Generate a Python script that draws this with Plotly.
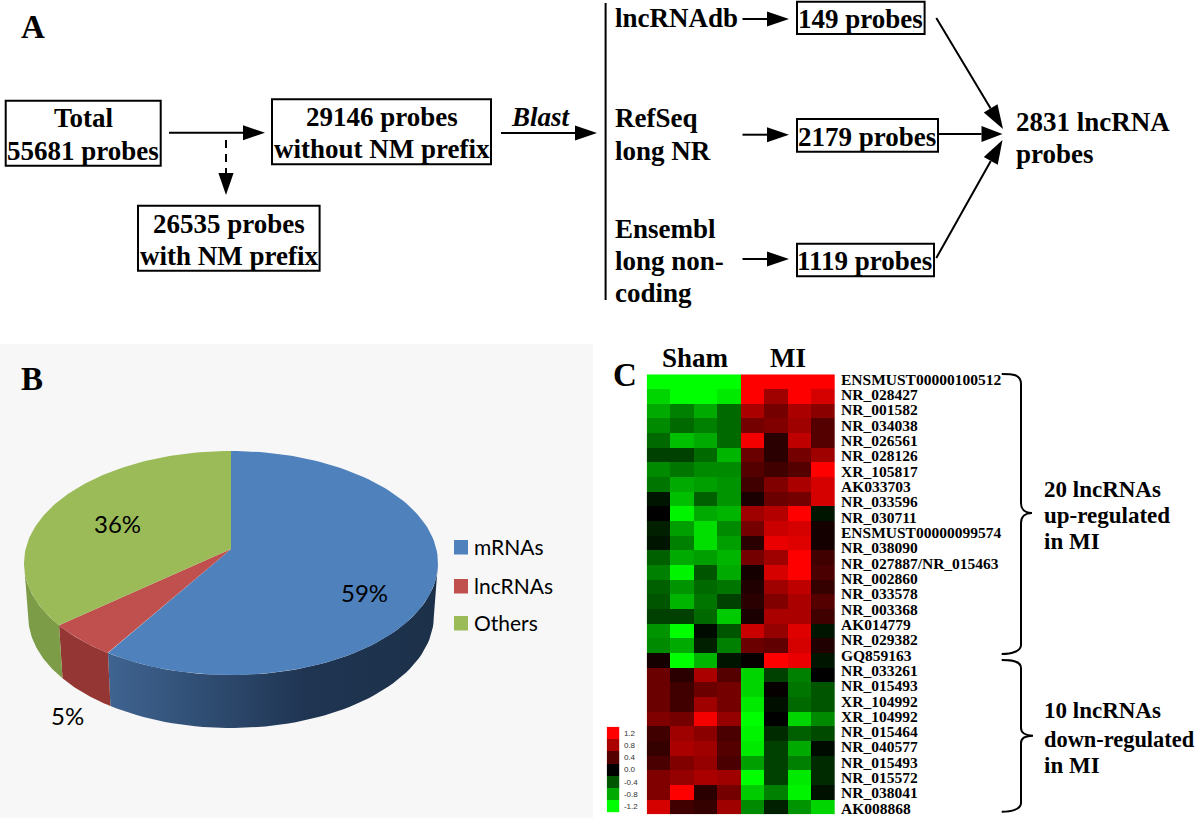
"""Three-panel probe figure: flow chart (A), 3D-style pie (B), heatmap with key (C)."""

import math

import numpy as np
import plotly.graph_objects as go

# Panel B data
PIE_LABELS = ["mRNAs", "lncRNAs", "Others"]
PIE_VALUES = [59, 5, 36]
PIE_COLORS = ["#4f81bd", "#c0504d", "#9bbb59"]
PIE_SIDE_COLORS = [None, "#943634", "#7d9c47"]

# Panel C data: one row per probe, columns are four Sham then four MI samples
HEAT_COLUMNS = ["S1", "S2", "S3", "S4", "M1", "M2", "M3", "M4"]
HEAT_ROWS = [
    [-1.2, -1.2, -1.2, -1.2, 1.2, 1.2, 1.2, 1.2],
    [-1.0, -1.2, -1.2, -1.1, 1.2, 0.75, 1.2, 1.0],
    [-0.8, -0.6, -0.8, -0.5, 0.8, 0.55, 0.8, 0.65],
    [-0.65, -0.5, -0.6, -0.5, 0.55, 0.6, 0.75, 0.4],
    [-0.5, -0.9, -0.8, -0.5, 1.15, 0.2, 0.9, 0.4],
    [-0.3, -0.3, -0.5, -0.85, 0.5, 0.2, 0.55, 0.75],
    [-0.65, -0.55, -0.65, -0.65, 0.4, 0.3, 0.4, 1.2],
    [-0.55, -0.8, -0.75, -0.7, 0.3, 0.6, 0.8, 1.0],
    [-0.1, -0.9, -0.45, -0.7, 0.12, 0.5, 0.55, 1.0],
    [0.0, -1.15, -0.8, -0.85, 0.75, 0.85, 1.2, -0.1],
    [-0.15, -0.75, -1.05, -0.65, 0.55, 0.95, 1.0, 0.1],
    [-0.1, -0.6, -1.05, -0.75, 0.2, 1.1, 1.05, 0.1],
    [-0.45, -0.8, -0.75, -0.85, 0.55, 0.75, 1.2, 0.3],
    [-0.6, -1.15, -0.4, -0.8, 0.1, 1.0, 1.2, 0.35],
    [-0.45, -0.7, -0.5, -0.55, 0.15, 0.75, 0.9, 0.25],
    [-0.4, -0.85, -0.55, -0.3, 0.2, 0.6, 0.8, 0.4],
    [-0.3, -0.3, -0.5, -0.95, 0.12, 0.8, 0.8, 0.3],
    [-0.7, -1.2, -0.05, -0.4, 0.95, 0.7, 1.05, -0.1],
    [-0.65, -0.8, -0.15, -0.6, 0.5, 0.45, 1.0, 0.15],
    [0.1, -1.2, -0.85, -0.1, 0.03, 1.2, 1.1, -0.1],
    [0.5, 0.2, 0.8, 0.4, -1.0, -0.3, -0.6, 0.0],
    [0.5, 0.3, 0.5, 0.55, -1.0, 0.03, -0.55, -0.4],
    [0.5, 0.3, 0.75, 0.55, -1.1, -0.07, -0.5, -0.4],
    [0.6, 0.55, 1.15, 0.7, -1.2, 0.0, -1.0, -0.65],
    [0.3, 0.75, 0.65, 0.35, -1.15, -0.2, -0.45, -0.35],
    [0.25, 0.8, 0.75, 0.4, -1.1, -0.3, -0.8, -0.05],
    [0.35, 0.6, 0.7, 0.35, -0.75, -0.3, -0.6, -0.2],
    [0.6, 0.7, 0.8, 0.75, -1.2, -0.3, -1.1, -0.2],
    [0.6, 1.2, 0.2, 0.55, -0.95, -0.6, -1.15, -0.08],
    [1.0, 0.3, 0.25, 0.75, -0.65, -0.15, -0.7, -1.0],
]
PROBE_LABELS = [
    "ENSMUST00000100512", "NR_028427", "NR_001582", "NR_034038", "NR_026561",
    "NR_028126", "XR_105817", "AK033703", "NR_033596", "NR_030711",
    "ENSMUST00000099574", "NR_038090", "NR_027887/NR_015463", "NR_002860",
    "NR_033578", "NR_003368", "AK014779", "NR_029382", "GQ859163", "NR_033261",
    "NR_015493", "XR_104992", "XR_104992", "NR_015464", "NR_040577", "NR_015493",
    "NR_015572", "NR_038041", "AK008868",
]
KEY_VALUES = [1.2, 0.8, 0.4, 0.0, -0.4, -0.8, -1.2]
KEY_LABELS = ["1.2", "0.8", "0.4", "0.0", "-0.4", "-0.8", "-1.2"]

WIDTH, HEIGHT = 1200, 818
SERIF = "Liberation Serif"
HEAT_SCALE = [[0, "#00ff00"], [0.5, "#000000"], [1, "#ff0000"]]

# perspective of the pie: the apex sits above the centre of the top ellipse
PIE_SKEW = 0.125
PIE_DEPTH = 53 / 112
PIE_BASE_SCALE = 0.98

shapes = []
annotations = []


def text(x, y, label, size=27, anchor="center", font=SERIF, bold=True, color="#000000", italic=False):
    body = f"<b>{label}</b>" if bold else label
    if italic:
        body = f"<i>{body}</i>"
    annotations.append(dict(
        x=x, y=y, xref="x", yref="y", text=body, showarrow=False,
        xanchor=anchor, yanchor="middle", borderpad=0,
        font=dict(family=font, size=size, color=color),
    ))


def box(x0, y0, x1, y1):
    shapes.append(dict(type="rect", x0=x0, y0=y0, x1=x1, y1=y1, xref="x", yref="y",
                       line=dict(color="#000000", width=2), layer="below"))


def arrow(x0, y0, x1, y1, head=22, half=7.5, dash="solid"):
    length = math.hypot(x1 - x0, y1 - y0)
    ux, uy = (x1 - x0) / length, (y1 - y0) / length
    bx, by = x1 - ux * head, y1 - uy * head
    shapes.append(dict(type="line", x0=x0, y0=y0, x1=bx, y1=by, xref="x", yref="y",
                       line=dict(color="#000000", width=2, dash=dash)))
    path = (f"M {x1} {y1} L {bx - uy * half} {by + ux * half} "
            f"L {bx + uy * half} {by - ux * half} Z")
    shapes.append(dict(type="path", path=path, xref="x", yref="y",
                       fillcolor="#000000", line=dict(width=0)))


def brace(points):
    path = " ".join(points)
    shapes.append(dict(type="path", path=path, xref="x", yref="y",
                       line=dict(color="#000000", width=2)))


def rim(fracs):
    """Point on the top ellipse for a share of the way round, clockwise from the top."""
    theta = 2 * np.pi * np.asarray(fracs)
    u, v = np.sin(theta), np.cos(theta)
    w = 1 + PIE_SKEW * v
    return u * math.sqrt(1 - PIE_SKEW ** 2) / w, (v + PIE_SKEW) / w


def domain_x(p0, p1):
    return [p0 / WIDTH, p1 / WIDTH]


def domain_y(p_top, p_bottom):
    return [1 - p_bottom / HEIGHT, 1 - p_top / HEIGHT]


fig = go.Figure()

# ---------------------------------------------------------------------------
# Panel B background, drawn first
# ---------------------------------------------------------------------------
shapes.append(dict(type="rect", x0=0, y0=344, x1=593, y1=818, xref="x", yref="y",
                   fillcolor="#f7f7f7", line=dict(width=0), layer="below"))

# ---------------------------------------------------------------------------
# Panel A: flow chart
# ---------------------------------------------------------------------------
text(33, 27, "A", size=33)

box(5.7, 100.7, 160.7, 165.7)
text(84, 118, "Total")
text(83, 151, "55681 probes")
arrow(169, 132.7, 265, 132.7)

box(272, 99.3, 491, 164.3)
text(381.6, 117, "29146 probes")
text(382, 149, "without NM prefix")

arrow(226, 140, 226, 195, head=22, half=7.6, dash="8px,6px")
box(138, 205.7, 319.6, 270.7)
text(228.5, 224, "26535 probes")
text(228.5, 256, "with NM prefix")

text(541, 117, "Blast", italic=True)
arrow(501, 133, 597, 133)
shapes.append(dict(type="line", x0=605.6, y0=3, x1=605.6, y1=300, xref="x", yref="y",
                   line=dict(color="#000000", width=2)))

text(614, 18, "lncRNAdb", anchor="left")
arrow(742.5, 19, 789, 19)
box(797, 1.7, 924.6, 34)
text(860.4, 19, "149 probes")

text(614, 118, "RefSeq", anchor="left")
text(614, 151, "long NR", anchor="left")
arrow(742.5, 134.7, 789, 134.7)
box(797, 119, 938, 151.7)
text(866.7, 136.7, "2179 probes")

text(614, 229, "Ensembl", anchor="left")
text(614, 261, "long non-", anchor="left")
text(614, 293, "coding", anchor="left")
arrow(742.5, 259, 789, 259)
box(797, 243.7, 934, 276.3)
text(864.7, 261, "1119 probes")

arrow(936.3, 18, 1003, 129, head=24, half=8)
arrow(938, 134, 1002.5, 134, head=21, half=8)
arrow(936.3, 258, 1002.5, 140, head=24, half=8)
text(1015, 122, "2831 lncRNA", anchor="left")
text(1015, 154, "probes", anchor="left")

# ---------------------------------------------------------------------------
# Panel B: pie built from the shares, since a native pie cannot tilt
# ---------------------------------------------------------------------------
text(32, 379, "B", size=33)

total = sum(PIE_VALUES)
edges = np.cumsum([0] + PIE_VALUES) / total
visible_start = math.acos(-PIE_SKEW) / (2 * math.pi)
visible_end = 1 - visible_start

for i, name in enumerate(PIE_LABELS):
    start = max(edges[i], visible_start)
    end = min(edges[i + 1], visible_end)
    if end <= start:
        continue
    ux, uy = rim(np.linspace(start, end, 60))
    side_x = np.concatenate([ux, ux[::-1] * PIE_BASE_SCALE])
    side_y = np.concatenate([uy, uy[::-1] - PIE_DEPTH])
    style = dict(fillcolor=PIE_SIDE_COLORS[i]) if PIE_SIDE_COLORS[i] else dict(
        fillgradient=dict(type="horizontal", colorscale=[
            [0, "#3f6491"], [0.6, "#1f3552"], [1, "#1c3049"]]))
    fig.add_trace(go.Scatter(x=side_x, y=side_y, mode="lines", fill="toself",
                             line=dict(width=0), hoverinfo="skip", showlegend=False,
                             xaxis="x2", yaxis="y2", **style))

for i, name in enumerate(PIE_LABELS):
    ux, uy = rim(np.linspace(edges[i], edges[i + 1], 120))
    fig.add_trace(go.Scatter(x=np.concatenate([[0], ux]), y=np.concatenate([[PIE_SKEW], uy]),
                             mode="lines", fill="toself", fillcolor=PIE_COLORS[i],
                             line=dict(width=0), name=name, showlegend=False,
                             xaxis="x2", yaxis="y2",
                             hovertemplate=f"{name}: {PIE_VALUES[i]}%<extra></extra>"))

text(364, 592, f"{PIE_VALUES[0]}%", size=24, font="Lato", bold=False)
text(67, 715, f"{PIE_VALUES[1]}%", size=24, font="Lato", bold=False)
text(117, 523, f"{PIE_VALUES[2]}%", size=24, font="Lato", bold=False)

for name, color, top in zip(PIE_LABELS, PIE_COLORS, [540, 579, 616]):
    shapes.append(dict(type="rect", x0=454, x1=468, y0=top, y1=top + 14.5, xref="x", yref="y",
                       fillcolor=color, line=dict(width=0)))
    text(473, top + 6, name, size=21, anchor="left", font="Lato", bold=False)

# ---------------------------------------------------------------------------
# Panel C: heatmap, colour key, probe names and braces
# ---------------------------------------------------------------------------
text(625, 375, "C", size=33)
text(695, 358, "Sham")
text(787.7, 358, "MI")

fig.add_trace(go.Heatmap(z=HEAT_ROWS, x=HEAT_COLUMNS, y=list(range(len(HEAT_ROWS))),
                         zmin=-1.2, zmax=1.2, colorscale=HEAT_SCALE, showscale=False,
                         xaxis="x3", yaxis="y3"))
fig.add_trace(go.Heatmap(z=[[v] for v in KEY_VALUES], x=["key"], y=list(range(len(KEY_VALUES))),
                         zmin=-1.2, zmax=1.2, colorscale=HEAT_SCALE, showscale=False,
                         xaxis="x4", yaxis="y4"))

# the printed names are spaced a little wider than the rows
for i, label in enumerate(PROBE_LABELS):
    text(840, 379.3 + i * 15.32, label, size=15.5, anchor="left")

brace(["M 1001.7 374", "C 1012 374 1021 374 1021 384", "L 1021 503",
       "C 1021 510 1026 513 1032 513", "C 1026 513 1021 516 1021 523",
       "L 1021 645", "C 1021 651 1012 654 1001.7 654"])
brace(["M 1001.7 660", "C 1012 660 1021 661 1021 668", "L 1021 728",
       "C 1021 733 1026 735.7 1033 735.7", "C 1026 735.7 1021 738 1021 743",
       "L 1021 803", "C 1021 809 1012 811.7 1001.7 811.7"])

text(1042.7, 489, "20 lncRNAs", size=23, anchor="left")
text(1042.7, 515.7, "up-regulated", size=23, anchor="left")
text(1042.7, 541.7, "in MI", size=23, anchor="left")
text(1042.7, 710.7, "10 lncRNAs", size=23, anchor="left")
text(1042.7, 739, "down-regulated", size=22.4, anchor="left")
text(1042.7, 765, "in MI", size=23, anchor="left")

hidden = dict(visible=False, showgrid=False, zeroline=False)
fig.update_layout(
    width=WIDTH,
    height=HEIGHT,
    autosize=False,
    margin=dict(l=0, r=0, t=0, b=0, pad=0),
    paper_bgcolor="#ffffff",
    plot_bgcolor="rgba(0,0,0,0)",
    showlegend=False,
    shapes=shapes,
    annotations=annotations,
    xaxis=dict(range=[0, WIDTH], domain=[0, 1], **hidden),
    yaxis=dict(range=[HEIGHT, 0], domain=[0, 1], **hidden),
    xaxis2=dict(range=[-1, 1], domain=domain_x(24, 438), anchor="y2", **hidden),
    yaxis2=dict(range=[1 - 282 / 112, 1], domain=domain_y(451, 733), anchor="x2", **hidden),
    xaxis3=dict(domain=domain_x(646.7, 835), anchor="y3", **hidden),
    yaxis3=dict(autorange="reversed", domain=domain_y(374.3, 814.3), anchor="x3", **hidden),
    xaxis4=dict(domain=domain_x(606.7, 619.3), anchor="y4", **hidden),
    yaxis4=dict(
        autorange="reversed",
        domain=domain_y(726.7, 812.3),
        anchor="x4",
        side="right",
        tickmode="array",
        tickvals=list(range(len(KEY_LABELS))),
        ticktext=KEY_LABELS,
        ticks="outside",
        ticklen=2,
        tickcolor="rgba(0,0,0,0)",
        showgrid=False,
        zeroline=False,
        showline=False,
        tickfont=dict(family="Liberation Sans", size=8, color="#333333"),
    ),
)

fig.write_html("out.html", config=dict(displayModeBar=False),
               post_script="document.body.style.margin='0';document.body.style.overflow='hidden';")
